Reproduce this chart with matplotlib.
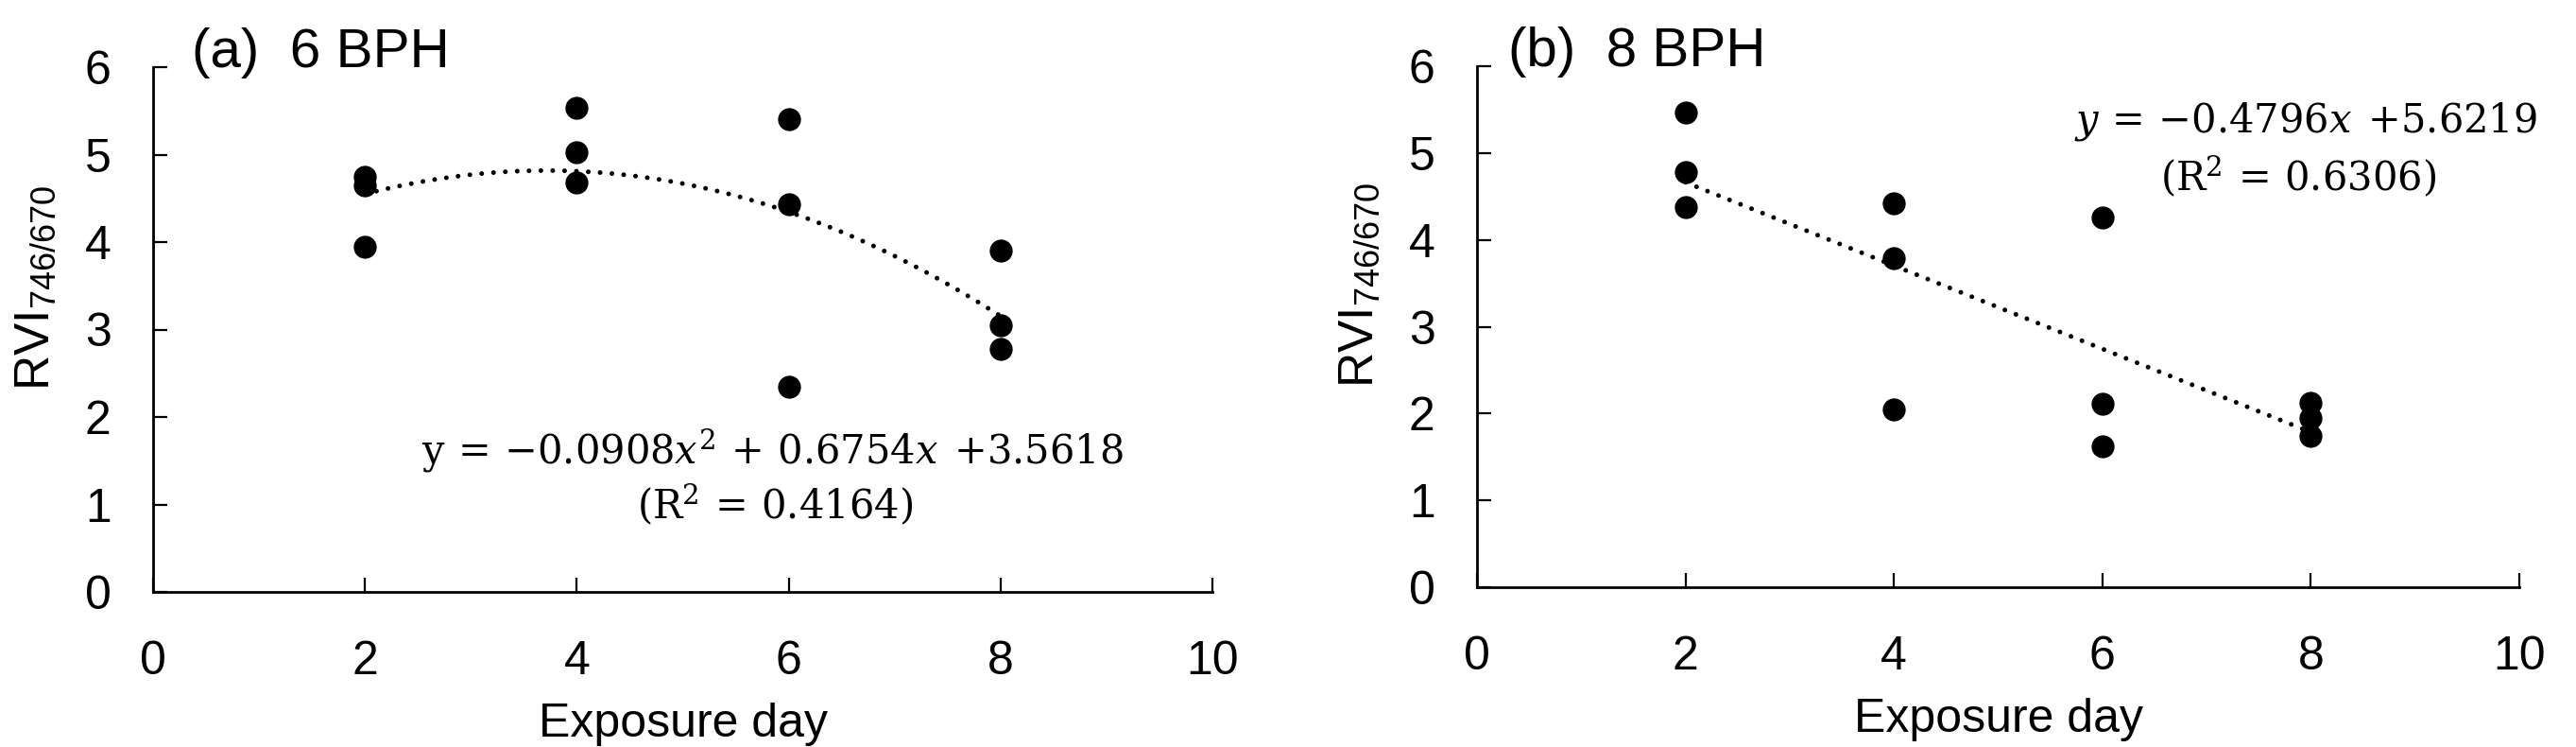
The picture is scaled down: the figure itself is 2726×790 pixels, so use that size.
import numpy as np
import matplotlib
matplotlib.use("Agg")
import matplotlib.pyplot as plt

plt.rcParams['font.family'] = ['Liberation Sans', 'DejaVu Sans']
plt.rcParams['mathtext.fontset'] = 'custom'
plt.rcParams['mathtext.rm'] = 'DejaVu Serif'
plt.rcParams['mathtext.it'] = 'DejaVu Serif:italic'
plt.rcParams['mathtext.sf'] = 'Liberation Sans'

# ---- data ----
days_a = [2, 2, 2, 4, 4, 4, 6, 6, 6, 8, 8, 8]
rvi_a = [4.75, 4.65, 3.95, 5.54, 5.03, 4.68, 5.40, 4.43, 2.35, 3.90, 3.05, 2.78]
coef_a = [-0.0908, 0.6754, 3.5618]
r2_a = 0.4164

days_b = [2, 2, 2, 4, 4, 4, 6, 6, 6, 8, 8, 8]
rvi_b = [5.47, 4.78, 4.38, 4.42, 3.79, 2.05, 4.26, 2.11, 1.62, 2.12, 1.95, 1.74]
coef_b = [-0.4796, 5.6219]
r2_b = 0.6306

titles = ['(a)  6 BPH', '(b)  8 BPH']
xticks = [0, 2, 4, 6, 8, 10]
yticks = [0, 1, 2, 3, 4, 5, 6]

W, H = 2726, 790
fig = plt.figure(figsize=(W / 100, H / 100), dpi=100)

def px_rect(l, t, r, b):
    return [l / W, 1 - b / H, (r - l) / W, (b - t) / H]

ax_a = fig.add_axes(px_rect(162, 71, 1283, 626))
ax_b = fig.add_axes(px_rect(1563, 70, 2666, 621))

def style(ax):
    ax.set_xlim(0, 10)
    ax.set_ylim(0, 6)
    ax.set_xticks(xticks)
    ax.set_yticks(yticks)
    for s in ['top', 'right']:
        ax.spines[s].set_visible(False)
    for s in ['left', 'bottom']:
        ax.spines[s].set_linewidth(2.0)
    ax.tick_params(axis='both', direction='in', length=11, width=1.6, labelsize=36)
    ax.tick_params(axis='y', pad=32)
    ax.tick_params(axis='x', pad=37)
    ax.set_xlabel('Exposure day', fontsize=36, labelpad=14)

title_x = [0.37, 0.30]
for ax, d, v, t, tx in [(ax_a, days_a, rvi_a, titles[0], title_x[0]),
                        (ax_b, days_b, rvi_b, titles[1], title_x[1])]:
    style(ax)
    ax.plot(d, v, 'o', color='black', markersize=16.5, zorder=3)
    ax.text(tx, 6.0, t, fontsize=42, ha='left', va='baseline')

xs = np.linspace(2, 8, 200)
ax_a.plot(xs, np.polyval(coef_a, xs), color='black', lw=3.6,
          linestyle=(0, (0.01, 2.5)), dash_capstyle='round', zorder=2)
ax_b.plot(xs, np.polyval(coef_b, xs), color='black', lw=3.6,
          linestyle=(0, (0.01, 2.5)), dash_capstyle='round', zorder=2)

eq_fs = 30
ax_a.text(5.85, 1.47, r'$\mathrm{y}\,=\,{-}0.0908x^{2}\,+\,0.6754x\;\,{+}3.5618$',
          fontsize=eq_fs, ha='center', va='baseline')
ax_a.text(5.87, 0.83, r'$(\mathrm{R}^{2}\,=\,%.4f)$' % r2_a, fontsize=eq_fs,
          ha='center', va='baseline')
ax_b.text(7.95, 5.24, r'$y\,=\,{-}0.4796x\;\,{+}5.6219$', fontsize=eq_fs,
          ha='center', va='baseline')
ax_b.text(7.88, 4.56, r'$(\mathrm{R}^{2}\,=\,%.4f)$' % r2_b, fontsize=eq_fs,
          ha='center', va='baseline')

ylab = r'RVI$_{\mathsf{746/670}}$'
fig.text(39 / W, 1 - 305 / H, ylab, rotation=90, fontsize=37, ha='center', va='center')
fig.text(1440 / W, 1 - 302 / H, ylab, rotation=90, fontsize=37, ha='center', va='center')

fig.savefig('out.png', dpi=100)
